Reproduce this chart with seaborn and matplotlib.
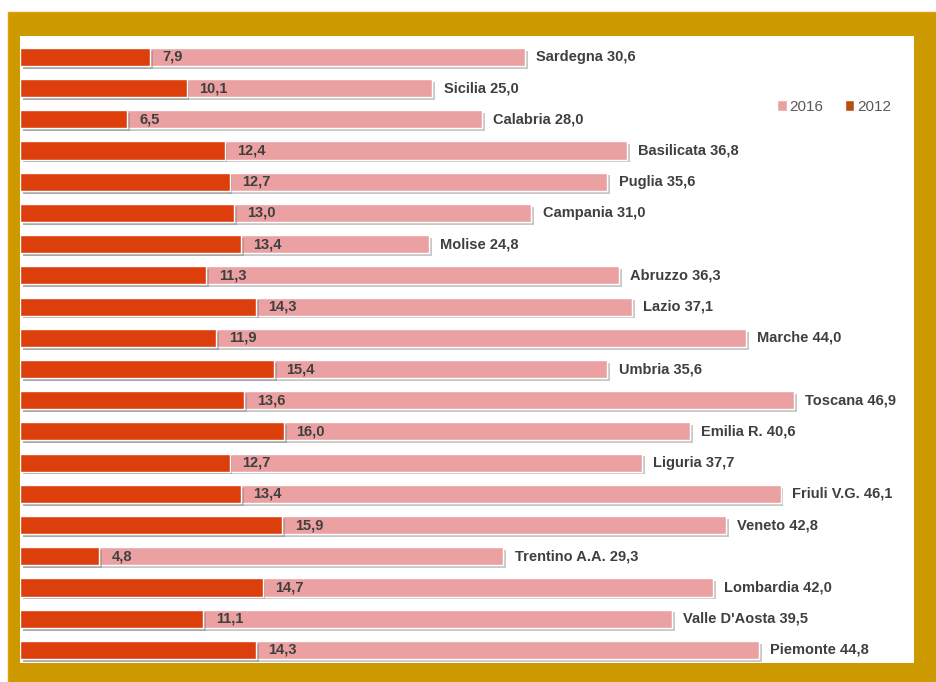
import matplotlib
matplotlib.use('Agg')
import matplotlib.pyplot as plt
import matplotlib.patheffects as pe
from matplotlib.patches import Rectangle, Patch
import pandas as pd
import seaborn as sns

# Data (top to bottom as in the reference)
regions = ['Sardegna', 'Sicilia', 'Calabria', 'Basilicata', 'Puglia', 'Campania',
           'Molise', 'Abruzzo', 'Lazio', 'Marche', 'Umbria', 'Toscana',
           'Emilia R.', 'Liguria', 'Friuli V.G.', 'Veneto', 'Trentino A.A.',
           'Lombardia', "Valle D'Aosta", 'Piemonte']
val_2016 = [30.6, 25.0, 28.0, 36.8, 35.6, 31.0, 24.8, 36.3, 37.1, 44.0,
            35.6, 46.9, 40.6, 37.7, 46.1, 42.8, 29.3, 42.0, 39.5, 44.8]
val_2012 = [7.9, 10.1, 6.5, 12.4, 12.7, 13.0, 13.4, 11.3, 14.3, 11.9,
            15.4, 13.6, 16.0, 12.7, 13.4, 15.9, 4.8, 14.7, 11.1, 14.3]

df = pd.DataFrame({'region': regions, '2016': val_2016, '2012': val_2012})

pink = '#EBA1A1'
red = '#DC3E0C'
gold = '#CC9900'
txt = '#3F3F3F'


def fmt(v):
    return f'{v:.1f}'.replace('.', ',')


sns.set_style('white')
plt.rcParams['font.family'] = ['Liberation Sans', 'DejaVu Sans']

fig = plt.figure(figsize=(9.37, 6.82), dpi=100)
W, H = 937, 682

# gold frame on a background axes
bg = fig.add_axes([0, 0, 1, 1])
bg.set_axis_off()
bg.set_xlim(0, W)
bg.set_ylim(H, 0)
bg.add_patch(Rectangle((8, 12), W - 8, H - 12, facecolor=gold,
                       edgecolor='#E8A000', linewidth=1))

ax = fig.add_axes([20 / W, (H - 663) / H, (914 - 20) / W, (663 - 36) / H])
ax.set_facecolor('white')

shadow = [pe.SimplePatchShadow(offset=(2, -2), shadow_rgbFace='#777777', alpha=0.4), pe.Normal()]

sns.barplot(data=df, y='region', x='2016', order=regions, color=pink,
            width=0.58, saturation=1, ax=ax, orient='h')
sns.barplot(data=df, y='region', x='2012', order=regions, color=red,
            width=0.58, saturation=1, ax=ax, orient='h')

for p in ax.patches:
    p.set_path_effects(shadow)

for i, (r, a, b) in enumerate(zip(regions, val_2016, val_2012)):
    ax.annotate(f'{r} {fmt(a)}', xy=(a, i), xytext=(8, 0), textcoords='offset points',
                va='center', ha='left', fontsize=10.5, fontweight='bold', color=txt)
    ax.annotate(fmt(b), xy=(b, i), xytext=(9, 0), textcoords='offset points',
                va='center', ha='left', fontsize=10.5, fontweight='bold', color=txt)

ax.set_xlim(0, (914 - 20) / 16.5)
ax.set_ylim(19.42, -0.67)
ax.set_xlabel('')
ax.set_ylabel('')
ax.set_xticks([])
ax.set_yticks([])
for s in ax.spines.values():
    s.set_visible(False)

handles = [Patch(facecolor=pink, label='2016'), Patch(facecolor='#B5500F', label='2012')]
leg = ax.legend(handles=handles, loc='center right', bbox_to_anchor=(0.99, 0.887),
                ncol=2, frameon=False, fontsize=11, handlelength=0.6,
                handleheight=0.8, handletextpad=0.2, columnspacing=1.4)
for t in leg.get_texts():
    t.set_color('#595959')

fig.savefig('out.png', dpi=100, facecolor='white')
